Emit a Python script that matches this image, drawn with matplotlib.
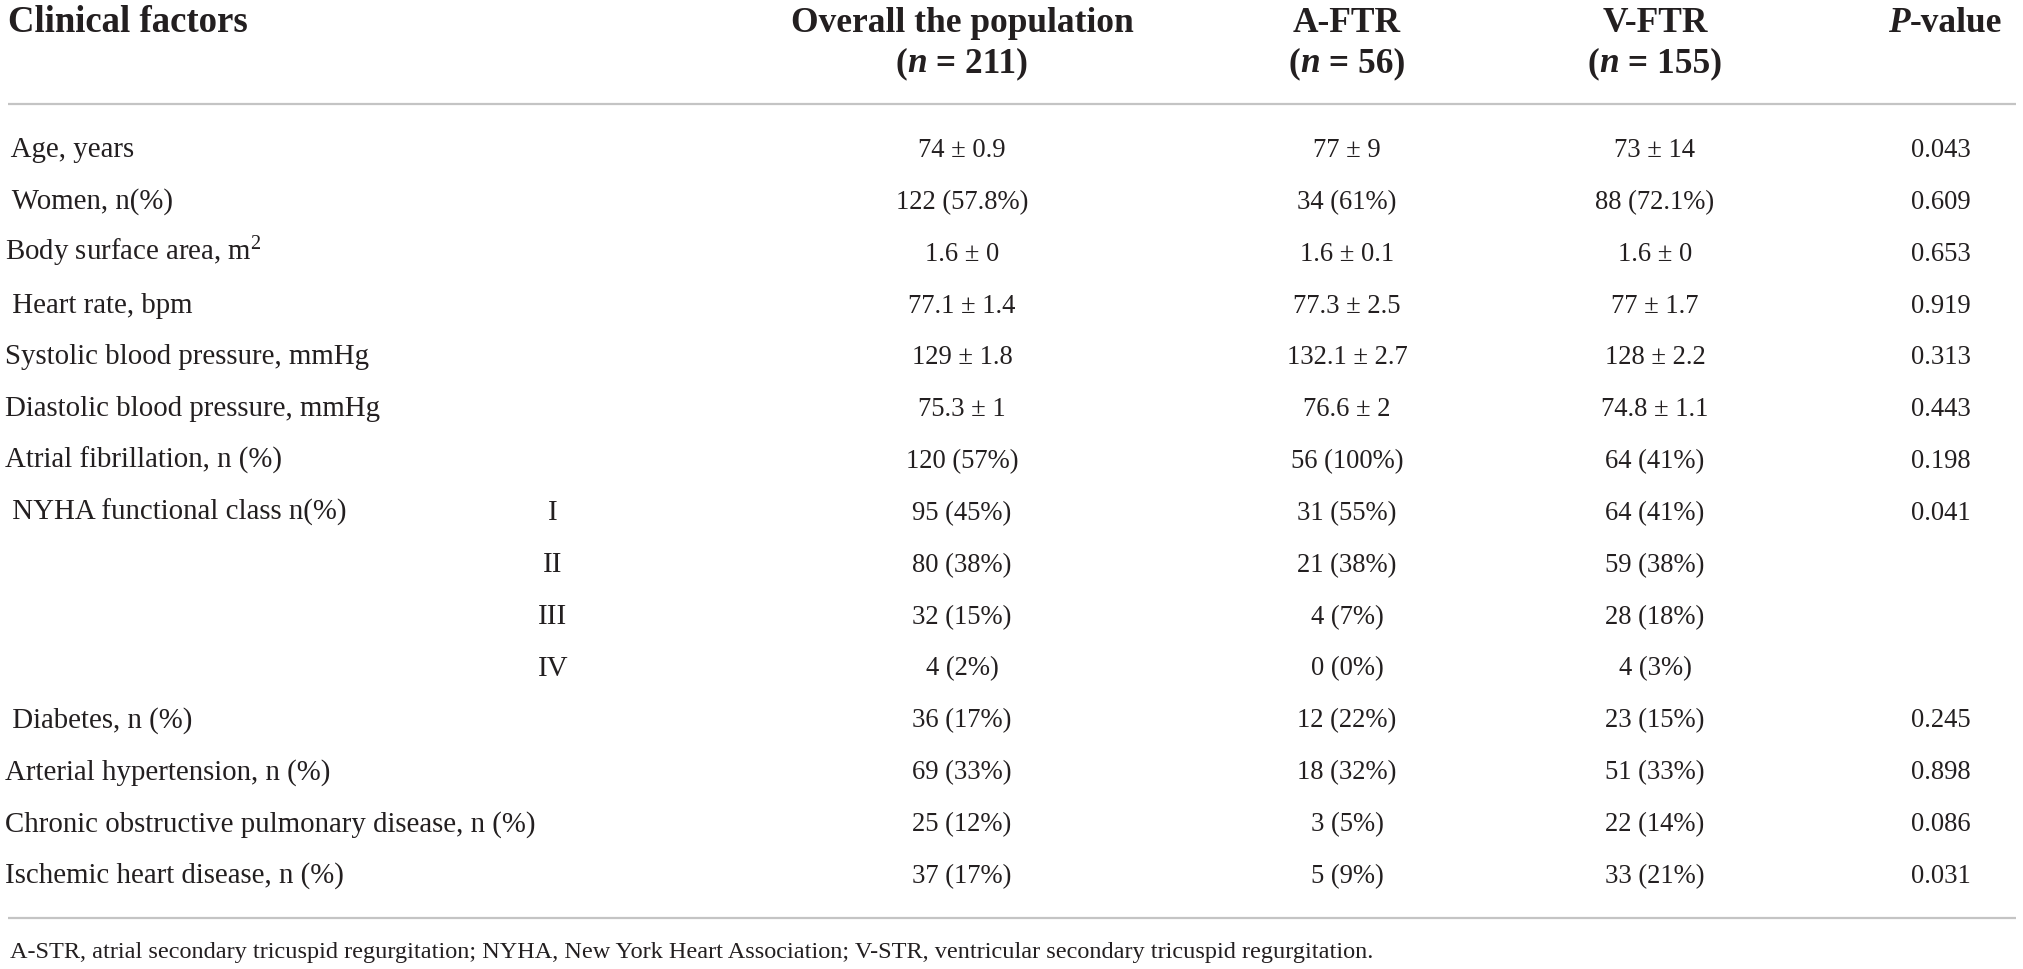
import matplotlib
matplotlib.use("Agg")
import matplotlib.pyplot as plt

# table content
factors = [" Age, years", " Women, n(%)", "Body surface area, m$^{2}$", " Heart rate, bpm",
           "Systolic blood pressure, mmHg", "Diastolic blood pressure, mmHg",
           "Atrial fibrillation, n (%)", " NYHA functional class n(%)", "", "", "",
           " Diabetes, n (%)", "Arterial hypertension, n (%)",
           "Chronic obstructive pulmonary disease, n (%)", "Ischemic heart disease, n (%)"]
nyha = ["", "", "", "", "", "", "", "I", "II", "III", "IV", "", "", "", ""]
overall = ["74 ± 0.9", "122 (57.8%)", "1.6 ± 0", "77.1 ± 1.4", "129 ± 1.8", "75.3 ± 1",
           "120 (57%)", "95 (45%)", "80 (38%)", "32 (15%)", "4 (2%)", "36 (17%)",
           "69 (33%)", "25 (12%)", "37 (17%)"]
a_ftr = ["77 ± 9", "34 (61%)", "1.6 ± 0.1", "77.3 ± 2.5", "132.1 ± 2.7", "76.6 ± 2",
         "56 (100%)", "31 (55%)", "21 (38%)", "4 (7%)", "0 (0%)", "12 (22%)",
         "18 (32%)", "3 (5%)", "5 (9%)"]
v_ftr = ["73 ± 14", "88 (72.1%)", "1.6 ± 0", "77 ± 1.7", "128 ± 2.2", "74.8 ± 1.1",
         "64 (41%)", "64 (41%)", "59 (38%)", "28 (18%)", "4 (3%)", "23 (15%)",
         "51 (33%)", "22 (14%)", "33 (21%)"]
p_values = ["0.043", "0.609", "0.653", "0.919", "0.313", "0.443", "0.198", "0.041",
            "", "", "", "0.245", "0.898", "0.086", "0.031"]
group_names = ["Overall the population", "A-FTR", "V-FTR"]
group_n = ["211", "56", "155"]
footnote = ("A-STR, atrial secondary tricuspid regurgitation; NYHA, New York Heart "
            "Association; V-STR, ventricular secondary tricuspid regurgitation.")

plt.rcParams['font.family'] = ['Liberation Serif', 'DejaVu Serif']
plt.rcParams['mathtext.fontset'] = 'custom'
plt.rcParams['mathtext.rm'] = 'Liberation Serif'
plt.rcParams['mathtext.it'] = 'Liberation Serif:italic'
plt.rcParams['mathtext.bf'] = 'Liberation Serif:bold'

W, H = 2023, 969
ink = '#231f20'
rule = '#c4c4c4'

fig = plt.figure(figsize=(W / 100, H / 100), dpi=100)
ax = fig.add_axes([0, 0, 1, 1])
ax.set_xlim(0, W)
ax.set_ylim(H, 0)
ax.axis('off')
renderer = fig.canvas.get_renderer()

label_size = 20.8
num_size = 19.2
head = 25.5
x_left = 5
x_nyha = 553
col_x = [962, 1347, 1655]
x_p = 1941
base0 = 157      # baseline of first body row
step = 51.86


def rich(x, y, parts, size):
    # parts: list of (text, style) drawn side by side and centred on x
    objs = []
    for s, st in parts:
        t = ax.text(0, y, s, fontsize=size, fontweight='bold', fontstyle=st,
                    color=ink, ha='left', va='baseline')
        objs.append(t)
    widths = [t.get_window_extent(renderer).width for t in objs]
    cur = x - sum(widths) / 2
    for t, w in zip(objs, widths):
        t.set_x(cur)
        cur += w


# header
ax.text(8, 32, "Clinical factors", fontsize=head + 1, fontweight='bold', color=ink,
        ha='left', va='baseline')
for name, n, cx in zip(group_names, group_n, col_x):
    ax.text(cx, 32, name, fontsize=head, fontweight='bold', color=ink,
            ha='center', va='baseline')
    rich(cx, 72, [("(", 'normal'), ("n", 'italic'), (" = " + n + ")", 'normal')], head)
rich(x_p + 4, 32, [("P", 'italic'), ("-value", 'normal')], head)

ax.plot([8, 2016], [104, 104], color=rule, lw=1.6, solid_capstyle='butt')

# body rows
for i in range(len(factors)):
    y = base0 + i * step
    ax.text(x_left, y, factors[i], fontsize=label_size, color=ink, ha='left', va='baseline')
    ax.text(x_nyha, y, nyha[i], fontsize=label_size, color=ink, ha='center', va='baseline')
    for vals, cx in zip([overall, a_ftr, v_ftr], col_x):
        ax.text(cx, y, vals[i], fontsize=num_size, color=ink, ha='center', va='baseline')
    ax.text(x_p, y, p_values[i], fontsize=num_size, color=ink, ha='center', va='baseline')

ax.plot([8, 2016], [918, 918], color=rule, lw=1.6, solid_capstyle='butt')

ax.text(10, 958, footnote, fontsize=17.5, color=ink, ha='left', va='baseline')

fig.savefig("out.png", dpi=100)
